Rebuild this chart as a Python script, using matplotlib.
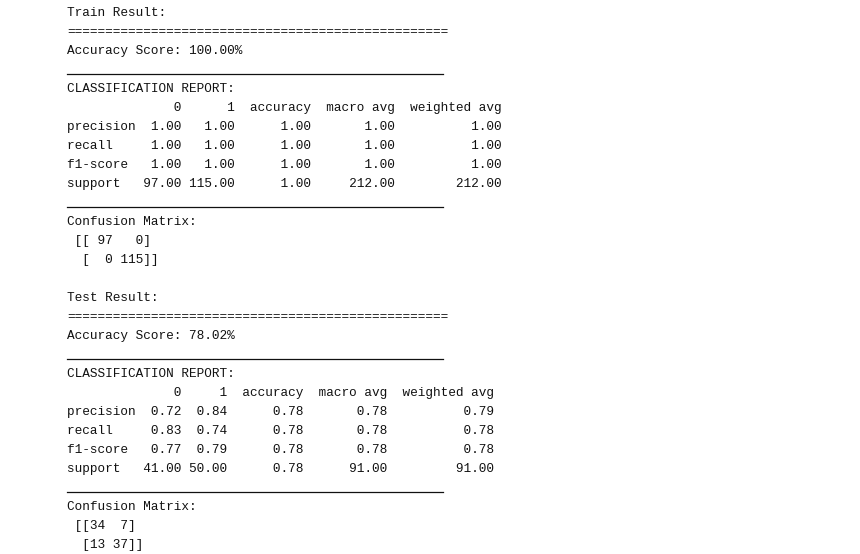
import matplotlib
matplotlib.use("Agg")
import matplotlib.pyplot as plt
from matplotlib.lines import Line2D
import pandas as pd

columns = ["0", "1", "accuracy", "macro avg", "weighted avg"]
rows = ["precision", "recall", "f1-score", "support"]
train_acc = 100.00
train_vals = [[1.00, 1.00, 1.00, 1.00, 1.00],
              [1.00, 1.00, 1.00, 1.00, 1.00],
              [1.00, 1.00, 1.00, 1.00, 1.00],
              [97.00, 115.00, 1.00, 212.00, 212.00]]
train_cm = [[97, 0], [0, 115]]
test_acc = 78.02
test_vals = [[0.72, 0.84, 0.78, 0.78, 0.79],
             [0.83, 0.74, 0.78, 0.78, 0.78],
             [0.77, 0.79, 0.78, 0.78, 0.78],
             [41.00, 50.00, 0.78, 91.00, 91.00]]
test_cm = [[34, 7], [13, 37]]

def cm_str(cm):
    w = max(len(str(v)) for r in cm for v in r)
    lines = []
    for i, r in enumerate(cm):
        s = " ".join(str(v).rjust(w) for v in r)
        lines.append((" [[" if i == 0 else "  [") + s + ("]]" if i == len(cm) - 1 else "]"))
    return lines

def block(title, acc, vals, cm):
    df = pd.DataFrame(vals, index=rows, columns=columns)
    rep = df.to_string(float_format=lambda v: f"{v:.2f}").split("\n")
    out = [title, "=" * 50, f"Accuracy Score: {acc:.2f}%", "__LINE__",
           "CLASSIFICATION REPORT:"] + rep + ["__LINE__", "Confusion Matrix:"] + cm_str(cm)
    return out

lines = block("Train Result:", train_acc, train_vals, train_cm) + [""] + \
        block("Test Result:", test_acc, test_vals, test_cm)

fig = plt.figure(figsize=(8.6, 5.54), dpi=100)
fig.patch.set_facecolor("white")
y0 = 13
step = 19.0
for i, ln in enumerate(lines):
    y = y0 + i * step
    if ln == "__LINE__":
        fig.add_artist(Line2D([67 / 860, 443 / 860], [1 - (y + 4) / 554] * 2,
                              color="#111111", lw=0.9, transform=fig.transFigure))
        continue
    fig.text(67 / 860, 1 - y / 554, ln, family="Liberation Mono", fontsize=9.2,
             va="center", ha="left", color="#111111")
fig.savefig("out.png", dpi=100, facecolor="white")
